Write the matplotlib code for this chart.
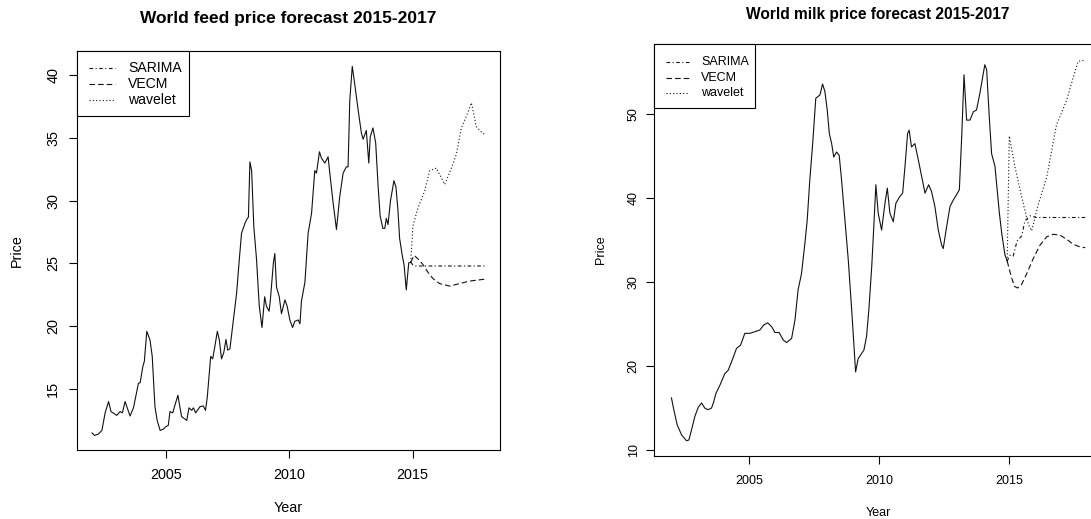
import matplotlib
matplotlib.use("Agg")
import matplotlib.pyplot as plt
from matplotlib.patches import Rectangle
from matplotlib.lines import Line2D

plt.rcParams['font.family'] = ['Liberation Sans', 'DejaVu Sans']
plt.rcParams['lines.scale_dashes'] = False

FIG_W, FIG_H = 1091, 519

# World feed price (monthly observations, read as decimal years)
feed_years = [2002.00, 2002.10, 2002.25, 2002.40, 2002.53, 2002.67, 2002.77, 2003.00, 2003.14, 2003.23,
              2003.34, 2003.54, 2003.68, 2003.88, 2003.95, 2004.06, 2004.12, 2004.22, 2004.35, 2004.44,
              2004.55, 2004.64, 2004.76, 2004.89, 2004.99, 2005.09, 2005.16, 2005.27, 2005.36, 2005.48,
              2005.63, 2005.84, 2005.93, 2006.04, 2006.11, 2006.20, 2006.38, 2006.51, 2006.60, 2006.67,
              2006.81, 2006.89, 2006.98, 2007.08, 2007.16, 2007.25, 2007.34, 2007.43, 2007.50, 2007.59,
              2007.73, 2007.86, 2007.97, 2008.06, 2008.20, 2008.27, 2008.34, 2008.40, 2008.47, 2008.56,
              2008.67, 2008.74, 2008.78, 2008.89, 2009.00, 2009.07, 2009.18, 2009.23, 2009.35, 2009.41,
              2009.48, 2009.59, 2009.68, 2009.82, 2009.91, 2010.02, 2010.13, 2010.22, 2010.36, 2010.43,
              2010.49, 2010.63, 2010.76, 2010.90, 2011.03, 2011.10, 2011.22, 2011.30, 2011.44, 2011.57,
              2011.64, 2011.77, 2011.91, 2012.04, 2012.18, 2012.31, 2012.38, 2012.45, 2012.55, 2012.65,
              2012.79, 2012.92, 2012.99, 2013.12, 2013.22, 2013.28, 2013.39, 2013.50, 2013.60, 2013.68,
              2013.79, 2013.87, 2013.93, 2014.00, 2014.10, 2014.24, 2014.32, 2014.40, 2014.47, 2014.58,
              2014.65, 2014.74, 2014.84, 2014.92]
feed_price = [11.5, 11.3, 11.4, 11.7, 13.1, 14.0, 13.2, 12.9, 13.2, 13.1,
              14.0, 12.85, 13.5, 15.45, 15.5, 16.8, 17.2, 19.6, 18.9, 17.6,
              13.6, 12.5, 11.7, 11.8, 12.0, 12.1, 13.2, 13.1, 13.7, 14.5,
              12.8, 12.5, 13.5, 13.3, 13.5, 13.1, 13.6, 13.65, 13.3, 14.3,
              17.6, 17.4, 18.4, 19.6, 18.9, 17.4, 17.9, 18.95, 18.1, 18.2,
              20.5, 22.6, 25.3, 27.4, 28.2, 28.5, 28.7, 33.1, 32.4, 27.9,
              25.3, 22.9, 21.6, 19.9, 22.35, 21.6, 21.2, 22.1, 25.0, 25.8,
              23.1, 22.35, 21.0, 22.1, 21.6, 20.5, 19.9, 20.4, 20.5, 20.2,
              22.0, 23.5, 27.4, 29.0, 32.4, 32.2, 33.9, 33.4, 33.0, 33.5,
              32.2, 29.9, 27.7, 30.3, 32.2, 32.7, 32.7, 38.0, 40.7, 39.3,
              37.2, 35.4, 34.9, 35.6, 33.0, 35.1, 35.8, 34.6, 31.1, 28.8,
              27.8, 27.8, 28.6, 28.1, 30.0, 31.6, 31.1, 29.3, 27.0, 25.6,
              24.9, 22.9, 25.05, 25.1]

feed_sarima_years = [2014.92, 2015.00, 2015.10, 2017.92]
feed_sarima = [25.1, 24.9, 24.8, 24.8]
feed_vecm_years = [2014.92, 2015.06, 2015.25, 2015.42, 2015.62, 2015.82, 2016.09, 2016.50, 2016.90,
                   2017.31, 2017.92]
feed_vecm = [25.1, 25.65, 25.3, 24.9, 24.3, 23.8, 23.4, 23.2, 23.4, 23.6, 23.75]
feed_wavelet_years = [2014.92, 2015.01, 2015.21, 2015.49, 2015.69, 2015.96, 2016.30, 2016.57, 2016.77,
                      2016.97, 2017.17, 2017.38, 2017.58, 2017.82, 2017.92]
feed_wavelet = [25.1, 28.0, 29.4, 30.8, 32.4, 32.6, 31.3, 32.6, 33.7, 35.8, 36.7, 37.8, 35.9, 35.4, 35.3]

# World milk price
milk_years = [2002.01, 2002.10, 2002.23, 2002.40, 2002.59, 2002.68, 2002.78, 2002.91, 2003.04, 2003.17,
              2003.29, 2003.42, 2003.55, 2003.62, 2003.72, 2003.87, 2004.06, 2004.19, 2004.32, 2004.51,
              2004.67, 2004.83, 2005.03, 2005.22, 2005.41, 2005.56, 2005.71, 2005.86, 2005.99, 2006.15,
              2006.31, 2006.44, 2006.63, 2006.76, 2006.88, 2007.01, 2007.14, 2007.23, 2007.33, 2007.44,
              2007.56, 2007.72, 2007.82, 2007.91, 2008.00, 2008.08, 2008.17, 2008.25, 2008.36, 2008.46,
              2008.55, 2008.68, 2008.81, 2008.94, 2009.03, 2009.09, 2009.19, 2009.32, 2009.41, 2009.51,
              2009.60, 2009.71, 2009.79, 2009.87, 2009.96, 2010.09, 2010.22, 2010.31, 2010.41, 2010.54,
              2010.64, 2010.79, 2010.90, 2010.99, 2011.09, 2011.15, 2011.24, 2011.37, 2011.50, 2011.63,
              2011.76, 2011.90, 2012.01, 2012.14, 2012.27, 2012.40, 2012.46, 2012.59, 2012.72, 2012.85,
              2012.97, 2013.08, 2013.17, 2013.26, 2013.36, 2013.49, 2013.62, 2013.74, 2013.87, 2013.97,
              2014.06, 2014.13, 2014.23, 2014.32, 2014.45, 2014.51, 2014.62, 2014.71, 2014.83, 2014.92]
milk_price = [16.2, 14.8, 13.0, 11.8, 11.1, 11.2, 12.4, 14.0, 15.1, 15.6,
              15.0, 14.8, 15.0, 15.6, 16.75, 17.7, 19.1, 19.5, 20.5, 22.1,
              22.5, 23.9, 23.9, 24.1, 24.3, 24.9, 25.15, 24.7, 24.0, 24.0,
              23.1, 22.8, 23.3, 25.5, 29.1, 31.0, 34.6, 37.4, 42.2, 46.5,
              51.9, 52.3, 53.6, 52.7, 50.5, 47.7, 46.5, 44.9, 45.5, 45.1,
              42.2, 37.4, 32.6, 26.7, 22.3, 19.3, 20.9, 21.5, 21.9, 23.5,
              26.7, 31.8, 36.6, 41.6, 38.2, 36.2, 39.4, 41.2, 38.2, 37.2,
              39.4, 40.2, 40.6, 43.8, 47.7, 48.1, 46.1, 46.5, 44.6, 42.6,
              40.6, 41.6, 40.8, 39.0, 36.2, 34.4, 34.0, 36.6, 39.0, 39.8,
              40.4, 41.0, 47.3, 54.7, 49.3, 49.3, 50.3, 50.5, 52.5, 54.3,
              55.9, 55.3, 49.7, 45.3, 43.8, 41.8, 38.2, 35.8, 33.3, 32.5]

milk_sarima_years = [2014.92, 2015.02, 2015.15, 2015.30, 2015.48, 2015.60, 2015.80, 2016.05, 2017.92]
milk_sarima = [32.5, 33.2, 33.1, 34.9, 35.5, 37.3, 37.9, 37.7, 37.7]
milk_vecm_years = [2014.92, 2015.08, 2015.20, 2015.32, 2015.47, 2015.67, 2015.92, 2016.18, 2016.44,
                   2016.69, 2016.95, 2017.21, 2017.46, 2017.72, 2017.92]
milk_vecm = [32.5, 30.6, 29.5, 29.3, 29.7, 31.0, 32.8, 34.4, 35.4, 35.7, 35.6, 35.1, 34.5, 34.2, 34.1]
milk_wavelet_years = [2014.92, 2015.00, 2015.22, 2015.48, 2015.73, 2015.86, 2016.12, 2016.44, 2016.82,
                      2017.20, 2017.46, 2017.65, 2017.85, 2017.92]
milk_wavelet = [32.5, 47.4, 43.7, 40.1, 36.9, 36.1, 39.3, 42.5, 48.8, 51.6, 54.4, 56.3, 56.4, 56.4]

legend_labels = ['SARIMA', 'VECM', 'wavelet']
year_ticks = [2005, 2010, 2015]
feed_ticks = [15, 20, 25, 30, 35, 40]
milk_ticks = [10, 20, 30, 40, 50]

# dash patterns in points (R's dotdash / dashed / dotted)
STYLES = {
    'SARIMA': (0, (2.6, 1.8, 0.8, 1.8)),
    'VECM': (0, (4.0, 2.2)),
    'wavelet': (0, (0.8, 1.6)),
}
LINE_COLOR = '#111111'
LW = 0.8

fig = plt.figure(figsize=(FIG_W / 100, FIG_H / 100), dpi=100)


def add_panel(left, top, right, bottom):
    return fig.add_axes([left / FIG_W, 1 - bottom / FIG_H,
                         (right - left) / FIG_W, (bottom - top) / FIG_H])


def draw_key(ax, px_box, fs):
    # px_box: (width, height, line start, line end, text x, first row, row step) in pixels
    w, h, lx0, lx1, tx, row0, step = px_box
    bb = ax.get_position()
    W, H = bb.width * FIG_W, bb.height * FIG_H
    ax.add_patch(Rectangle((0, 1 - h / H), w / W, h / H, transform=ax.transAxes,
                           facecolor='white', edgecolor='black', lw=0.8, zorder=5, clip_on=False))
    for i, name in enumerate(legend_labels):
        y = 1 - (row0 + i * step) / H
        ax.add_line(Line2D([lx0 / W, lx1 / W], [y, y], transform=ax.transAxes, color=LINE_COLOR,
                           lw=LW, linestyle=STYLES[name], zorder=6))
        ax.text(tx / W, y, name, transform=ax.transAxes, fontsize=fs, va='center', ha='left', zorder=6)


def plot_panel(ax, obs_x, obs_y, forecasts, xlim, ylim, yticks, fs, xpad, ypad):
    ax.plot(obs_x, obs_y, color=LINE_COLOR, lw=LW)
    for name, (fx, fy) in zip(legend_labels, forecasts):
        ax.plot(fx, fy, color=LINE_COLOR, lw=LW, linestyle=STYLES[name])
    ax.set_xlim(*xlim)
    ax.set_ylim(*ylim)
    ax.set_xticks(year_ticks)
    ax.set_xticklabels([str(t) for t in year_ticks], fontsize=fs)
    ax.set_yticks(yticks)
    ax.set_yticklabels([str(t) for t in yticks], fontsize=fs, rotation=90, va='center')
    ax.tick_params(axis='x', length=5.8, width=0.8, pad=xpad)
    ax.tick_params(axis='y', length=5.5, width=0.8, pad=ypad)
    for sp in ax.spines.values():
        sp.set_linewidth(0.8)


# feed panel
ax1 = add_panel(77, 51, 500, 450)
plot_panel(ax1, feed_years, feed_price,
           [(feed_sarima_years, feed_sarima), (feed_vecm_years, feed_vecm),
            (feed_wavelet_years, feed_wavelet)],
           (2001.39, 2018.54), (10.14, 41.93), feed_ticks, 10.4, 7.5, 6.5)
draw_key(ax1, (112, 65, 12, 38, 51, 17, 16), 10.1)
fig.text(288.5 / FIG_W, 1 - 18.5 / FIG_H, 'World feed price forecast 2015-2017',
         ha='center', va='center', fontsize=12.5, fontweight='bold')
fig.text(17 / FIG_W, 1 - 251 / FIG_H, 'Price', rotation=90, ha='center', va='center', fontsize=10.4)
fig.text(288 / FIG_W, 1 - 508 / FIG_H, 'Year', ha='center', va='center', fontsize=10.4)

# milk panel, runs past the right edge of the figure
ax2 = add_panel(654.3, 44.3, 1101.6, 456)
plot_panel(ax2, milk_years, milk_price,
           [(milk_sarima_years, milk_sarima), (milk_vecm_years, milk_vecm),
            (milk_wavelet_years, milk_wavelet)],
           (2001.35, 2018.55), (9.29, 58.33), milk_ticks, 9.0, 8.0, 5.0)
draw_key(ax2, (101, 64, 12, 35, 47, 17.5, 15.8), 9.0)
fig.text(878 / FIG_W, 1 - 14 / FIG_H, 'World milk price forecast 2015-2017',
         ha='center', va='center', fontsize=11.2, fontweight='bold')
fig.text(600.7 / FIG_W, 1 - 250 / FIG_H, 'Price', rotation=90, ha='center', va='center', fontsize=9.0)
fig.text(878 / FIG_W, 1 - 513 / FIG_H, 'Year', ha='center', va='center', fontsize=9.0)

fig.savefig('out.png', dpi=100)
